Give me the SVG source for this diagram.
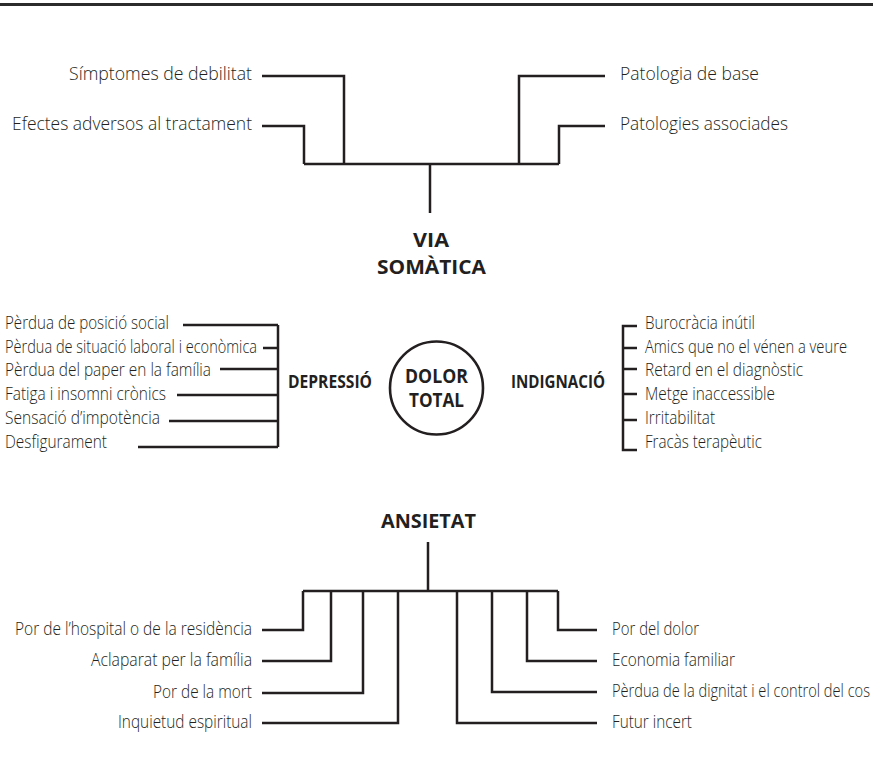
<svg xmlns="http://www.w3.org/2000/svg" width="873" height="780" viewBox="0 0 873 780">
  <style>
    .lbl { font-family: "Open Sans", "Liberation Sans", sans-serif; font-weight: 300; font-size: 18px; fill: #231f20; }
    .hd { font-family: "Open Sans", "Liberation Sans", sans-serif; font-weight: 700; fill: #231f20; }
    .end { text-anchor: end; }
    .mid { text-anchor: middle; }
    .wire { fill: none; stroke: #231f20; stroke-width: 2.5; stroke-linejoin: miter; stroke-linecap: butt; }
  </style>
  <rect width="873" height="780" fill="#ffffff"/>
  <!-- top rule -->
  <line x1="0" y1="4.5" x2="873" y2="4.5" stroke="#2b2b2b" stroke-width="3"/>

  <g id="connectors" class="wire">
    <!-- somatic branch -->
    <path d="M262 76 H344 V164"/>
    <path d="M262 126 H304 V164"/>
    <path d="M304 164 H559"/>
    <path d="M605 76 H519 V164"/>
    <path d="M605 126 H559 V164"/>
    <path d="M430 164 V213"/>
    <!-- depression bracket -->
    <path d="M183 325 H278"/>
    <path d="M263 348 H278"/>
    <path d="M220 369 H278"/>
    <path d="M177 395 H278"/>
    <path d="M169 421 H278"/>
    <path d="M138 447 H278"/>
    <path d="M278 325 V447"/>
    <!-- indignation bracket -->
    <path d="M637 326 H623 V450 H637"/>
    <path d="M623 348 H637"/>
    <path d="M623 369 H637"/>
    <path d="M623 394 H637"/>
    <path d="M623 420 H637"/>
    <!-- anxiety branch -->
    <path d="M428 542 V591"/>
    <path d="M303 591 H558"/>
    <path d="M262 630 H303 V591"/>
    <path d="M262 661 H331 V591"/>
    <path d="M262 693 H363 V591"/>
    <path d="M262 723 H398 V591"/>
    <path d="M597 630 H558 V591"/>
    <path d="M597 661 H527 V591"/>
    <path d="M597 692 H492 V591"/>
    <path d="M597 723 H457 V591"/>
  </g>

  <g id="via-somatica">
    <text class="hd mid" x="431" y="247" font-size="19.5" textLength="36" lengthAdjust="spacingAndGlyphs">VIA</text>
    <text class="hd mid" x="431.5" y="274" font-size="19.5" textLength="109" lengthAdjust="spacingAndGlyphs">SOMÀTICA</text>
  </g>
  <g id="simptomes"><text class="lbl end" x="252" y="80" textLength="183" lengthAdjust="spacingAndGlyphs">Símptomes de debilitat</text></g>
  <g id="efectes"><text class="lbl end" x="252" y="130" textLength="240" lengthAdjust="spacingAndGlyphs">Efectes adversos al tractament</text></g>
  <g id="patologia-base"><text class="lbl" x="620" y="80" textLength="139" lengthAdjust="spacingAndGlyphs">Patologia de base</text></g>
  <g id="patologies-associades"><text class="lbl" x="620" y="130" textLength="168" lengthAdjust="spacingAndGlyphs">Patologies associades</text></g>

  <g id="dolor-total">
    <circle cx="436.5" cy="388" r="46.5" fill="none" stroke="#231f20" stroke-width="2.6"/>
    <text class="hd mid" x="436.5" y="383" font-size="19" textLength="63" lengthAdjust="spacingAndGlyphs">DOLOR</text>
    <text class="hd mid" x="436.5" y="407" font-size="19" textLength="55" lengthAdjust="spacingAndGlyphs">TOTAL</text>
  </g>

  <g id="depressio">
    <text class="hd" x="288" y="388" font-size="17.5" textLength="84" lengthAdjust="spacingAndGlyphs">DEPRESSIÓ</text>
  </g>
  <g id="perdua-posicio"><text class="lbl" x="5" y="329" textLength="164" lengthAdjust="spacingAndGlyphs">Pèrdua de posició social</text></g>
  <g id="perdua-situacio"><text class="lbl" x="5" y="353" textLength="252" lengthAdjust="spacingAndGlyphs">Pèrdua de situació laboral i econòmica</text></g>
  <g id="perdua-paper"><text class="lbl" x="5" y="376" textLength="206" lengthAdjust="spacingAndGlyphs">Pèrdua del paper en la família</text></g>
  <g id="fatiga"><text class="lbl" x="5" y="400" textLength="161" lengthAdjust="spacingAndGlyphs">Fatiga i insomni crònics</text></g>
  <g id="sensacio"><text class="lbl" x="5" y="424" textLength="155" lengthAdjust="spacingAndGlyphs">Sensació d’impotència</text></g>
  <g id="desfigurament"><text class="lbl" x="5" y="448" textLength="102" lengthAdjust="spacingAndGlyphs">Desfigurament</text></g>

  <g id="indignacio">
    <text class="hd" x="511" y="388" font-size="17.5" textLength="94" lengthAdjust="spacingAndGlyphs">INDIGNACIÓ</text>
  </g>
  <g id="burocracia"><text class="lbl" x="645" y="329" textLength="110" lengthAdjust="spacingAndGlyphs">Burocràcia inútil</text></g>
  <g id="amics"><text class="lbl" x="645" y="353" textLength="202" lengthAdjust="spacingAndGlyphs">Amics que no el vénen a veure</text></g>
  <g id="retard"><text class="lbl" x="645" y="376" textLength="158" lengthAdjust="spacingAndGlyphs">Retard en el diagnòstic</text></g>
  <g id="metge"><text class="lbl" x="645" y="400" textLength="130" lengthAdjust="spacingAndGlyphs">Metge inaccessible</text></g>
  <g id="irritabilitat"><text class="lbl" x="645" y="424" textLength="70" lengthAdjust="spacingAndGlyphs">Irritabilitat</text></g>
  <g id="fracas"><text class="lbl" x="645" y="448" textLength="117" lengthAdjust="spacingAndGlyphs">Fracàs terapèutic</text></g>

  <g id="ansietat">
    <text class="hd mid" x="428.5" y="528" font-size="19.5" textLength="95" lengthAdjust="spacingAndGlyphs">ANSIETAT</text>
  </g>
  <g id="por-hospital"><text class="lbl end" x="252" y="635" textLength="237" lengthAdjust="spacingAndGlyphs">Por de l’hospital o de la residència</text></g>
  <g id="aclaparat"><text class="lbl end" x="252" y="666" textLength="161" lengthAdjust="spacingAndGlyphs">Aclaparat per la família</text></g>
  <g id="por-mort"><text class="lbl end" x="252" y="698" textLength="99" lengthAdjust="spacingAndGlyphs">Por de la mort</text></g>
  <g id="inquietud"><text class="lbl end" x="252" y="728" textLength="134" lengthAdjust="spacingAndGlyphs">Inquietud espiritual</text></g>
  <g id="por-dolor"><text class="lbl" x="612" y="635" textLength="87" lengthAdjust="spacingAndGlyphs">Por del dolor</text></g>
  <g id="economia"><text class="lbl" x="612" y="666" textLength="123" lengthAdjust="spacingAndGlyphs">Economia familiar</text></g>
  <g id="perdua-dignitat"><text class="lbl" x="612" y="697" textLength="258" lengthAdjust="spacingAndGlyphs">Pèrdua de la dignitat i el control del cos</text></g>
  <g id="futur"><text class="lbl" x="612" y="728" textLength="80" lengthAdjust="spacingAndGlyphs">Futur incert</text></g>
</svg>
